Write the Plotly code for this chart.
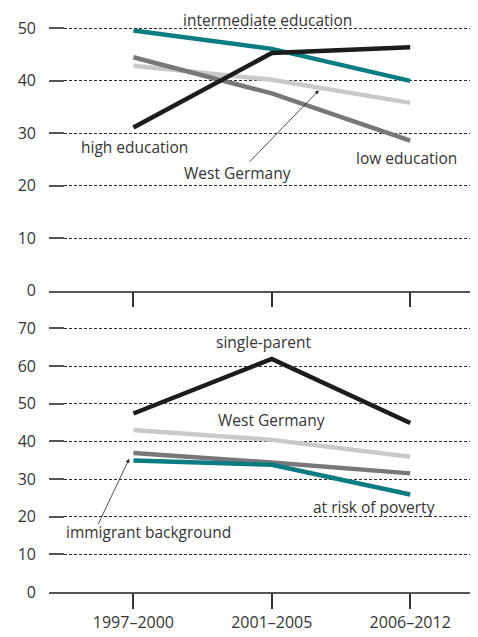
import plotly.graph_objects as go

# ── Data ────────────────────────────────────────────────────────────────────
periods = ["1997–2000", "2001–2005", "2006–2012"]

# top panel: by education
west_germany_top = [42.9, 40.2, 35.8]
low_education = [44.5, 37.6, 28.6]
intermediate_education = [49.6, 46.1, 40.0]
high_education = [31.1, 45.3, 46.4]

# bottom panel: by household situation
west_germany_bottom = [43.0, 40.4, 35.9]
immigrant_background = [36.9, 34.4, 31.5]
at_risk_of_poverty = [34.9, 33.8, 25.9]
single_parent = [47.4, 61.9, 44.9]

top_ticks = [0, 10, 20, 30, 40, 50]
bottom_ticks = [0, 10, 20, 30, 40, 50, 60, 70]

# ── Style ───────────────────────────────────────────────────────────────────
TEAL = "#0b7c82"
BLACK = "#1c1c1c"
DARK_GREY = "#78787c"
LIGHT_GREY = "#c9c9c9"
TEXT = "#353535"
FONT = "Open Sans, sans-serif"

# the page body adds an 8px offset, so the figure is drawn 8px smaller
OFF = 8
W, H = 478 - OFF, 637 - OFF
MARGIN_L, MARGIN_B = 49 - OFF, 45
PLOT_H = H - MARGIN_B


def px_dom(top_px, bottom_px):
    """Convert window pixel rows into a paper domain."""
    top_px -= OFF
    bottom_px -= OFF
    return [(PLOT_H - bottom_px) / PLOT_H, (PLOT_H - top_px) / PLOT_H]


fig = go.Figure()


def add_line(values, color, xa, ya):
    fig.add_trace(go.Scatter(
        x=periods, y=values, mode="lines", xaxis=xa, yaxis=ya,
        line=dict(color=color, width=4.5), showlegend=False, hoverinfo="skip",
    ))


# draw order = stacking order
add_line(west_germany_top, LIGHT_GREY, "x", "y")
add_line(low_education, DARK_GREY, "x", "y")
add_line(intermediate_education, TEAL, "x", "y")
add_line(high_education, BLACK, "x", "y")

add_line(west_germany_bottom, LIGHT_GREY, "x2", "y2")
add_line(immigrant_background, DARK_GREY, "x2", "y2")
add_line(at_risk_of_poverty, TEAL, "x2", "y2")
add_line(single_parent, BLACK, "x2", "y2")

xaxis_common = dict(
    type="category", range=[-0.61, 2.49], showgrid=False, zeroline=False,
    showline=True, linecolor="#555", linewidth=1.5,
    ticks="outside", ticklen=15, tickwidth=1.5, tickcolor="#333",
    tickfont=dict(family=FONT, size=16, color=TEXT),
    fixedrange=True,
)
yaxis_common = dict(
    showgrid=True, gridcolor="#2a2a2a", gridwidth=1, griddash="3px,2px",
    zeroline=False, showline=False,
    ticks="inside", ticklen=15, tickwidth=1.5, tickcolor="#555",
    tickfont=dict(family=FONT, size=16, color=TEXT),
    ticklabelstandoff=12, fixedrange=True,
)

fig.update_layout(
    width=W, height=H,
    margin=dict(l=MARGIN_L, r=0, t=0, b=MARGIN_B),
    plot_bgcolor="white", paper_bgcolor="white",
    font=dict(family=FONT, size=15.5, color=TEXT),
    xaxis=dict(xaxis_common, anchor="y", showticklabels=False),
    xaxis2=dict(xaxis_common, anchor="y2"),
    yaxis=dict(yaxis_common, range=[0, 53], tickvals=top_ticks,
               domain=px_dom(8.7, 288.5), anchor="x"),
    yaxis2=dict(yaxis_common, range=[0, 72], tickvals=bottom_ticks,
                domain=px_dom(319, 592), anchor="x2"),
)

# ── Labels ──────────────────────────────────────────────────────────────────
def label(text, x, y, xref, yref):
    fig.add_annotation(text=text, x=x, y=y, xref=xref, yref=yref,
                       showarrow=False, font=dict(family=FONT, size=15.5, color=TEXT))


label("intermediate education", 0.97, 51.7, "x", "y")
label("high education", 0.01, 27.4, "x", "y")
label("low education", 1.97, 25.3, "x", "y")
label("West Germany", 0.75, 22.5, "x", "y")

fig.add_annotation(
    x=1.34, y=38.2, xref="x", yref="y", ax=0.83, ay=24.3, axref="x", ayref="y",
    text="", showarrow=True, arrowhead=2, arrowsize=1, arrowwidth=0.8,
    arrowcolor="#222", standoff=0,
)

label("single-parent", 0.94, 66.3, "x2", "y2")
label("West Germany", 1.0, 45.6, "x2", "y2")
label("at risk of poverty", 1.74, 22.7, "x2", "y2")
label("immigrant background", 0.11, 15.8, "x2", "y2")

fig.add_annotation(
    x=-0.03, y=35.4, xref="x2", yref="y2", ax=-0.26, ay=17.6, axref="x2", ayref="y2",
    text="", showarrow=True, arrowhead=2, arrowsize=1, arrowwidth=0.8,
    arrowcolor="#222", standoff=0,
)

fig.write_html("out.html")
